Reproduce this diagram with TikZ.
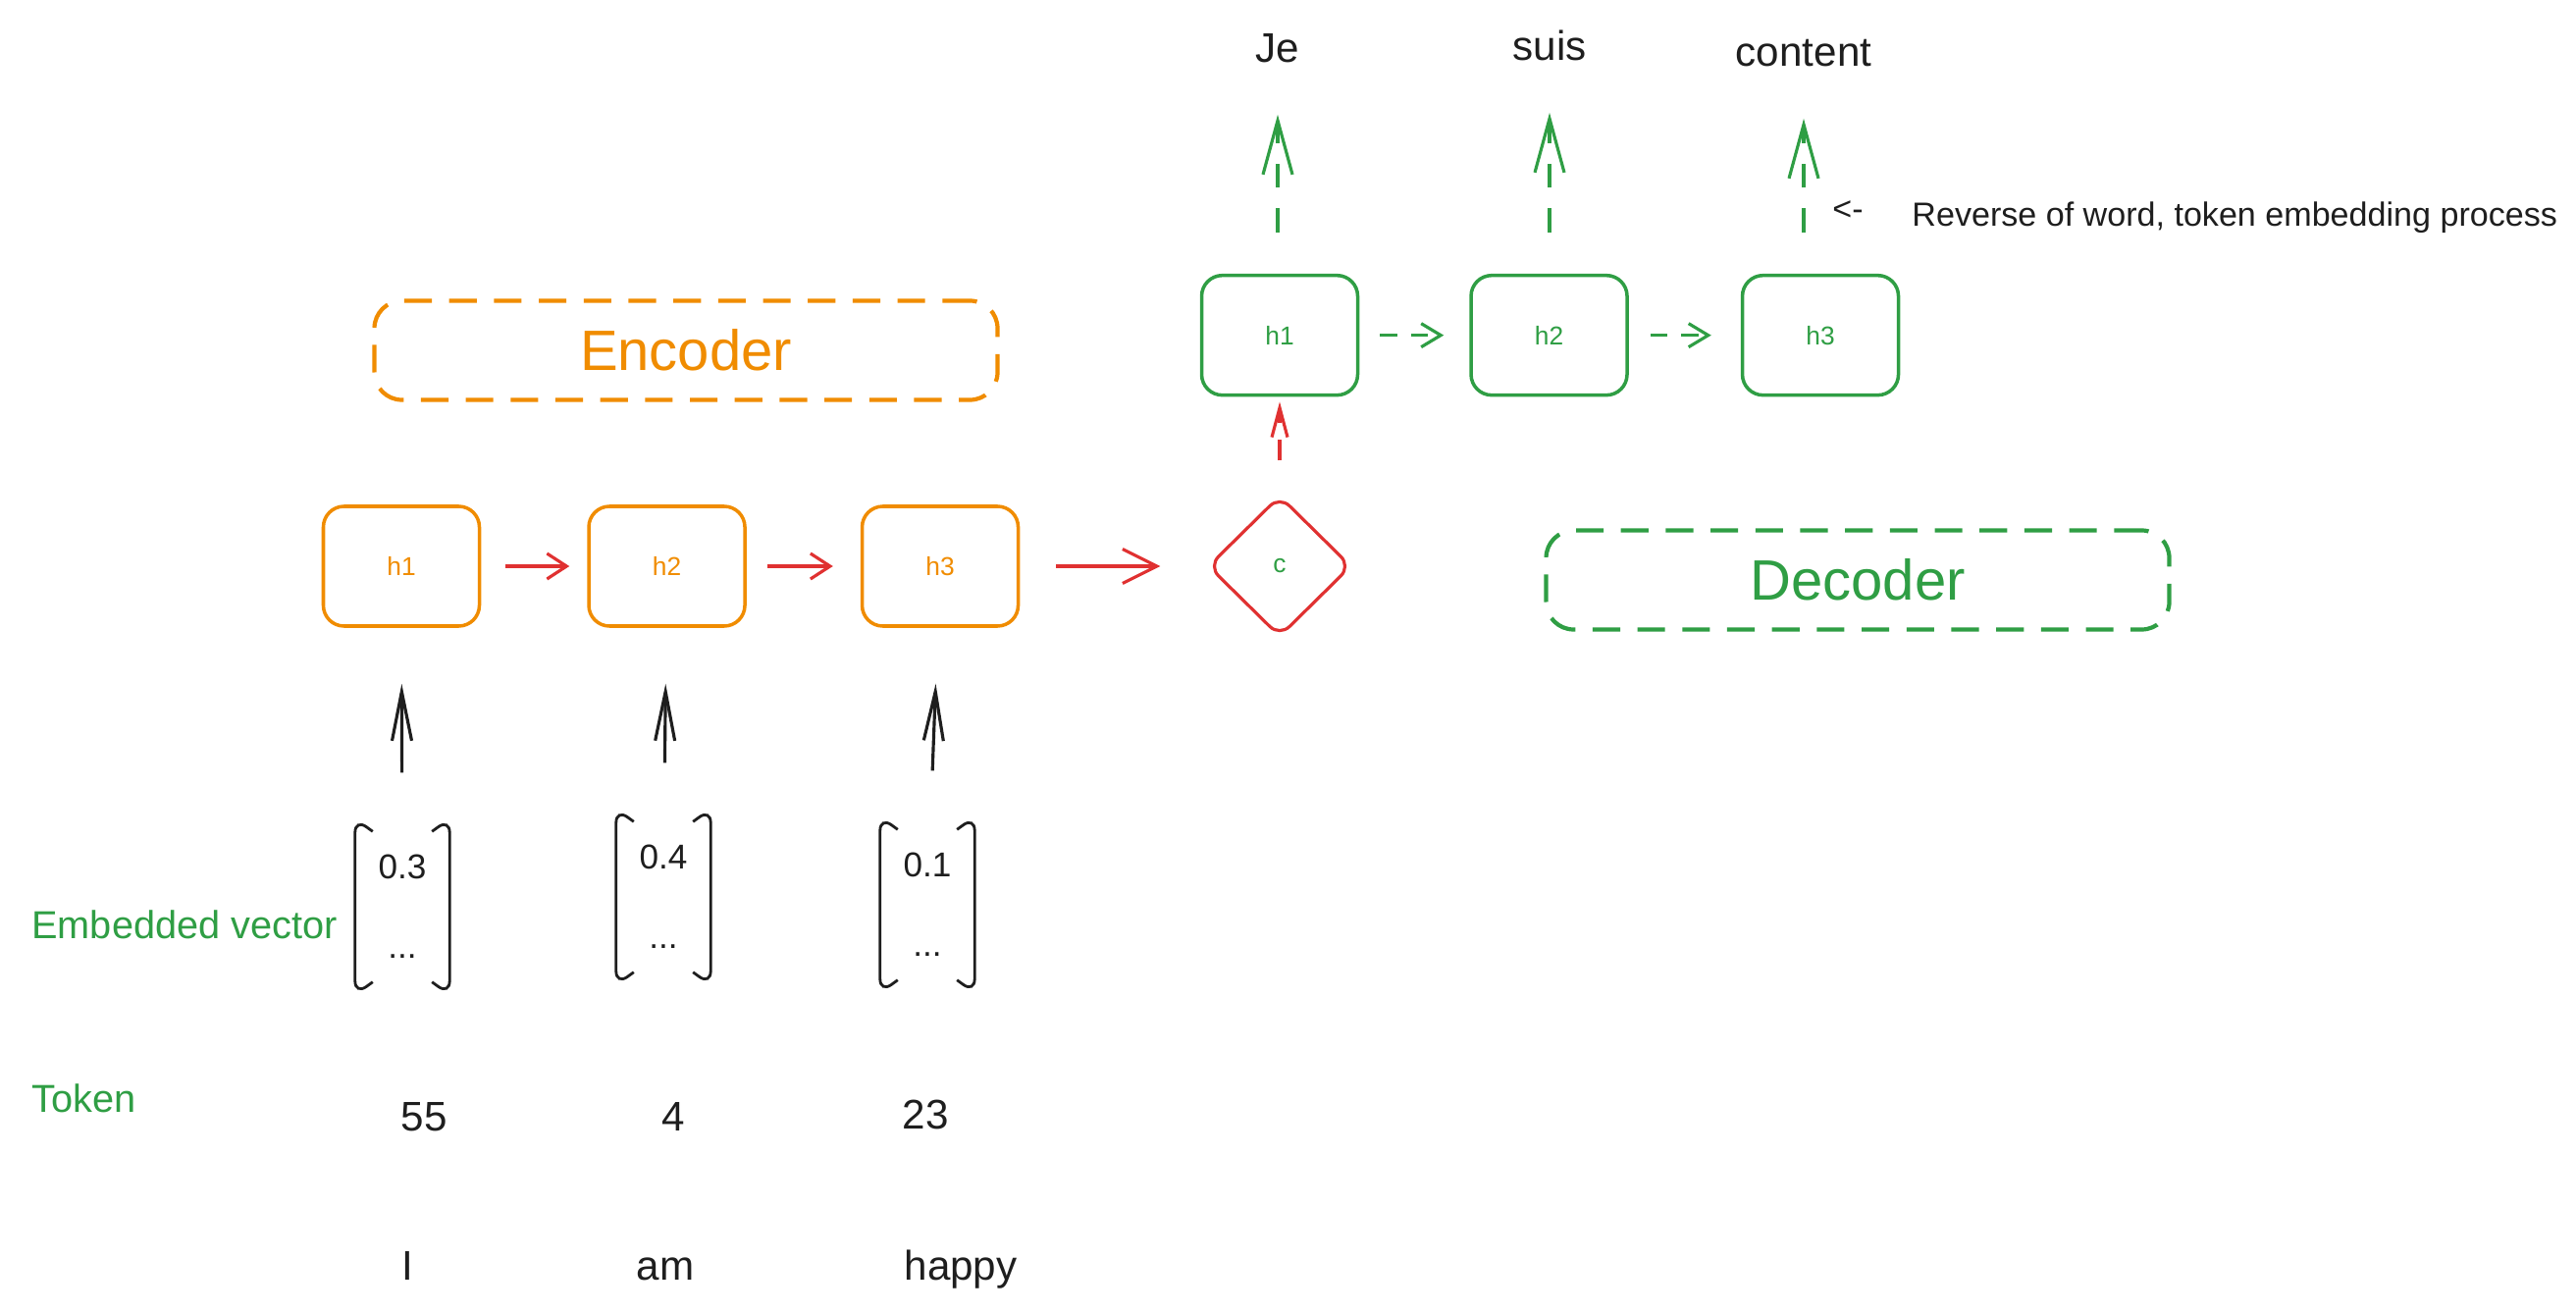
\documentclass[tikz,border=0pt]{standalone}
\usepackage{fontspec}
\setmainfont{Liberation Sans}
\usepackage{xcolor}
\usetikzlibrary{arrows.meta, positioning, shapes.geometric}

\definecolor{encorange}{HTML}{F08C00}
\definecolor{decgreen}{HTML}{2F9E44}
\definecolor{ctxred}{HTML}{E03131}
\definecolor{inkblack}{HTML}{1E1E1E}

\begin{document}
\begin{tikzpicture}[
  node distance=1.1cm,
  hidden/.style={draw=encorange, line width=1pt, rounded corners=6pt, minimum width=1.59cm, minimum height=1.22cm, text=encorange, font=\fontsize{7.5}{9}\selectfont},
  dechidden/.style={hidden, draw=decgreen, text=decgreen},
  context/.style={draw=ctxred, diamond, line width=0.9pt, rounded corners=4pt, minimum width=1.46cm, minimum height=1.44cm, inner sep=0pt, text=decgreen, font=\fontsize{7.5}{9}\selectfont},
  stage/.style={draw, dash pattern=on 8pt off 5pt, line width=1.2pt, rounded corners=8pt, minimum width=6.35cm, minimum height=1.01cm, font=\fontsize{16.5}{20}\selectfont},
  embvec/.style={minimum width=0.95cm, minimum height=1.78cm, inner sep=0pt, align=center, text=inkblack, font=\fontsize{10}{12}\selectfont},
  bracket/.style={draw=inkblack, line width=0.8pt, rounded corners=4pt},
  word/.style={anchor=base, text=inkblack, font=\fontsize{12}{14}\selectfont},
  note/.style={anchor=base west, text=inkblack, font=\fontsize{9.7}{12}\selectfont},
  rowlabel/.style={anchor=base west, text=decgreen, font=\fontsize{11.3}{14}\selectfont},
  feed/.style={-{Straight Barb[length=5mm, width=2mm]}, draw=inkblack, line width=0.9pt, shorten <=0.47cm, shorten >=0.57cm},
  recur/.style={-{Straight Barb[length=2mm, width=2.6mm]}, draw=ctxred, line width=0.9pt},
  decstep/.style={-{Straight Barb[length=2mm, width=2.4mm]}, draw=decgreen, line width=0.9pt, dash pattern=on 5pt off 4pt},
  emit/.style={-{Straight Barb[length=5.5mm, width=3mm]}, draw=decgreen, line width=0.9pt, dash pattern=on 7pt off 6pt, shorten <=0.42cm, shorten >=0.4cm}
]
\useasboundingbox (0,0) rectangle (26.25,-13.37);

% encoder
\node[hidden] (ench1) at (4.09,-5.77) {h1};
\node[hidden, right=1.08cm of ench1] (ench2) {h2};
\node[hidden, right=1.16cm of ench2] (ench3) {h3};
\node[context] (ctx) at (13.04,-5.77) {c};
\node[stage, draw=encorange, text=encorange] (encoder) at (6.99,-3.57) {Encoder};

% decoder
\node[dechidden, above=0.99cm of ctx] (dech1) {h1};
\node[dechidden, right=1.12cm of dech1] (dech2) {h2};
\node[dechidden, right=1.14cm of dech2] (dech3) {h3};
\node[stage, draw=decgreen, text=decgreen] (decoder) at (18.93,-5.91) {Decoder};

\node[word] (je) at (13.02,-0.64) {Je};
\node[word] (suis) at (15.79,-0.62) {suis};
\node[word] (content) at (18.38,-0.68) {content};
\node[note] (revmark) at (18.55,-2.25) {<-};
\node[note] (revnote) at (19.36,-2.31) {Reverse of word, token embedding process};

% embedding and tokens
\node[rowlabel] (embedlbl) at (0.20,-9.56) {Embedded vector};
\node[rowlabel] (tokenlbl) at (0.20,-11.33) {Token};
\node[embvec] (vec1) at (4.10,-9.24) {0.3\\[11pt]...};
\node[embvec] (vec2) at (6.76,-9.14) {0.4\\[11pt]...};
\node[embvec] (vec3) at (9.45,-9.22) {0.1\\[11pt]...};
\node[word] (tok1) at (4.32,-11.52) {55};
\node[word] (tok2) at (6.86,-11.52) {4};
\node[word] (tok3) at (9.43,-11.50) {23};
\node[word] (wrd1) at (4.15,-13.04) {I};
\node[word] (wrd2) at (6.78,-13.04) {am};
\node[word] (wrd3) at (9.79,-13.04) {happy};

\draw[bracket] ([xshift=0.18cm, yshift=-0.13cm]vec1.north west) -- (vec1.north west) -- (vec1.south west) -- ([xshift=0.18cm, yshift=0.13cm]vec1.south west);
\draw[bracket] ([xshift=-0.18cm, yshift=-0.13cm]vec1.north east) -- (vec1.north east) -- (vec1.south east) -- ([xshift=-0.18cm, yshift=0.13cm]vec1.south east);
\draw[bracket] ([xshift=0.18cm, yshift=-0.13cm]vec2.north west) -- (vec2.north west) -- (vec2.south west) -- ([xshift=0.18cm, yshift=0.13cm]vec2.south west);
\draw[bracket] ([xshift=-0.18cm, yshift=-0.13cm]vec2.north east) -- (vec2.north east) -- (vec2.south east) -- ([xshift=-0.18cm, yshift=0.13cm]vec2.south east);
\draw[bracket] ([xshift=0.18cm, yshift=-0.13cm]vec3.north west) -- (vec3.north west) -- (vec3.south west) -- ([xshift=0.18cm, yshift=0.13cm]vec3.south west);
\draw[bracket] ([xshift=-0.18cm, yshift=-0.13cm]vec3.north east) -- (vec3.north east) -- (vec3.south east) -- ([xshift=-0.18cm, yshift=0.13cm]vec3.south east);

% connectors
\draw[feed] (vec1) -- (ench1);
\draw[feed] (vec2) -- (ench2);
\draw[feed] (vec3) -- (ench3);
\draw[recur, shorten <=0.25cm, shorten >=0.18cm] (ench1) -- (ench2);
\draw[recur, shorten <=0.21cm, shorten >=0.28cm] (ench2) -- (ench3);
\draw[recur, -{Straight Barb[length=3.5mm, width=3.5mm]}, shorten <=0.37cm, shorten >=0.47cm] (ench3) -- (ctx);
\draw[recur, dash pattern=on 6pt off 5pt, -{Straight Barb[length=3mm, width=1.6mm]}, shorten <=0.34cm, shorten >=0.05cm] (ctx) -- (dech1);
\draw[decstep, shorten <=0.21cm, shorten >=0.26cm] (dech1) -- (dech2);
\draw[decstep, shorten <=0.22cm, shorten >=0.30cm] (dech2) -- (dech3);
\draw[emit] (dech1.north -| je.south) -- (je.south);
\draw[emit] (dech2.north -| suis.south) -- (suis.south);
\draw[emit] (dech3.north -| content.south) -- (content.south);
\end{tikzpicture}
\end{document}
